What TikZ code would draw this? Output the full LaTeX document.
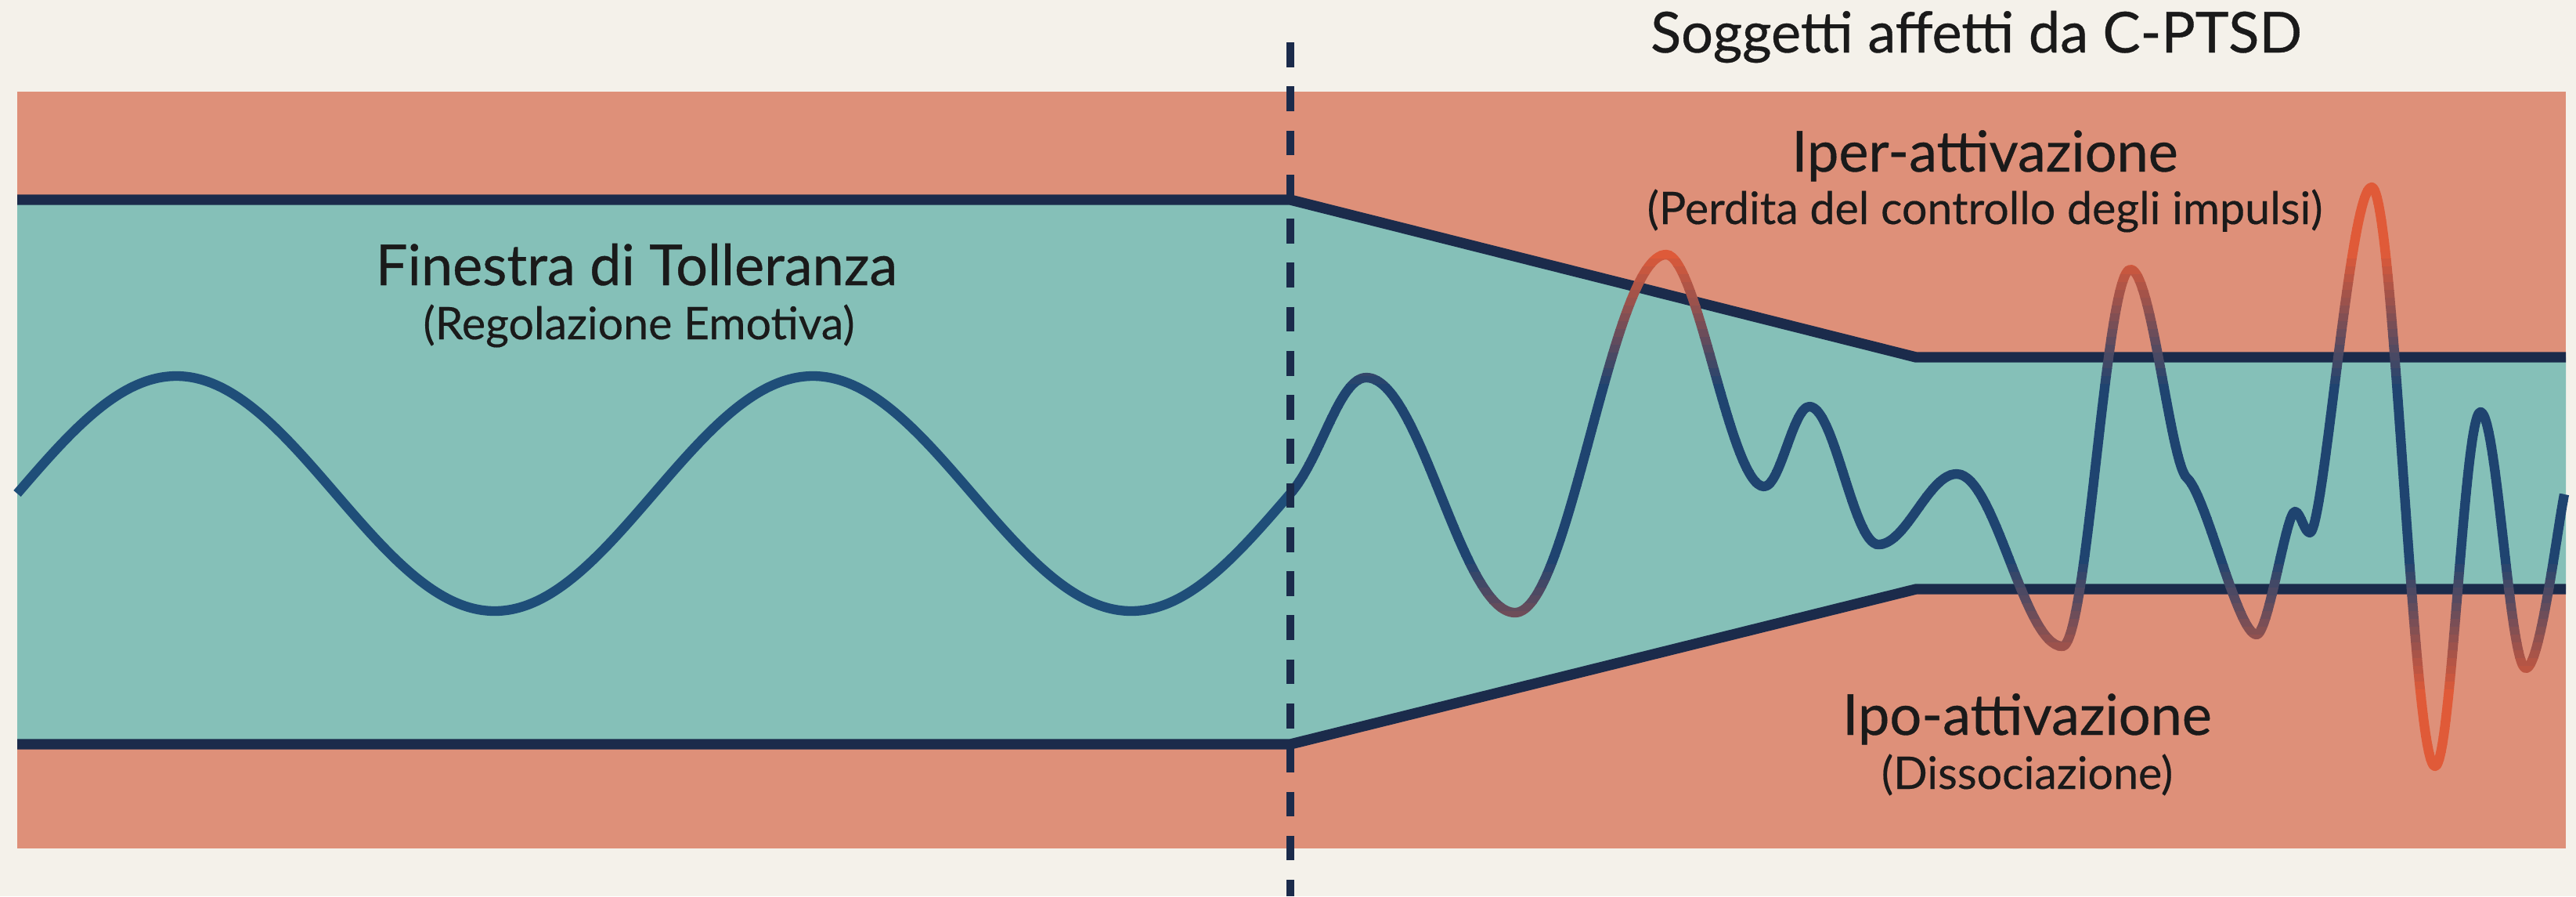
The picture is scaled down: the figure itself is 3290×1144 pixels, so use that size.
\documentclass[tikz,border=0pt]{standalone}
\usepackage{fontspec}
\setmainfont{Lato}
\newfontfamily\lblfont{Lato}[FakeBold=0.5]
\newfontfamily\subfont{Lato}[FakeBold=0.3]
\definecolor{bgc}{HTML}{F4F1EA}
\definecolor{salm}{HTML}{DE9079}
\definecolor{tealc}{HTML}{85C0B8}
\definecolor{navyl}{HTML}{1B2B4B}
\definecolor{wblue}{HTML}{1F4E79}
\definecolor{wnavy}{HTML}{1F4470}
\definecolor{wred}{HTML}{E05A38}
\definecolor{txt}{HTML}{1A1A1A}
\begin{document}
\begin{tikzpicture}[x=0.01cm,y=-0.01cm,
  bound/.style={draw=navyl,line width=3.8pt,line join=round},
  wavestyle/.style={line width=3.5pt,line join=round},
  lbl/.style={anchor=base,text=txt,inner sep=0pt,font=\lblfont\fontsize{20.5}{24}\selectfont},
  sublbl/.style={anchor=base,text=txt,inner sep=0pt,font=\subfont\fontsize{16.3}{20}\selectfont},
  divider/.style={draw=navyl,line width=2.8pt,dash pattern=on 9pt off 7pt}]
\useasboundingbox (0,0) rectangle (3290,1144);
\fill[bgc] (0,0) rectangle (3290,1144);
% zones
\fill[salm] (22,117) rectangle (3277,1083);
\fill[tealc] (22,255) -- (1648,255) -- (2447,456) -- (3277,456) -- (3277,752) -- (2447,752) -- (1648,950) -- (22,950) -- cycle;
\draw[bound] (22,255) -- (1648,255) -- (2447,456) -- (3277,456);
\draw[bound] (22,950) -- (1648,950) -- (2447,752) -- (3277,752);
% left regular wave
\draw[wavestyle,draw=wblue] (22,630) sin (225.25,480) cos (428.5,630) sin (631.75,780) cos (835,630)
  sin (1038.25,480) cos (1241.5,630) sin (1444.75,780) cos (1648,630);
% right irregular wave
\def\rightwave{(1648,630) .. controls (1688,584) and (1710,482) .. (1745,482)
  .. controls (1814,482) and (1866,782) .. (1935,782)
  .. controls (2005,782) and (2058,325) .. (2128,325)
  .. controls (2168,325) and (2210,621) .. (2253,621)
  .. controls (2274,621) and (2290,519) .. (2311,519)
  .. controls (2343,519) and (2367,695) .. (2399,695)
  .. controls (2435,695) and (2463,605) .. (2499,605)
  .. controls (2548,605) and (2585,825) .. (2634,825)
  .. controls (2666,825) and (2689,344) .. (2721,344)
  .. controls (2748,344) and (2772,592) .. (2793,610)
  .. controls (2818,632) and (2858,810) .. (2882,810)
  .. controls (2897,810) and (2920,653) .. (2931,653)
  .. controls (2938,653) and (2943,680) .. (2950,680)
  .. controls (2968,680) and (3001,239) .. (3029,239)
  .. controls (3058,239) and (3081,978) .. (3110,978)
  .. controls (3131,978) and (3147,526) .. (3168,526)
  .. controls (3189,526) and (3205,853) .. (3226,853)
  .. controls (3244,853) and (3266,676) .. (3275,631)}
\foreach \i in {0,...,89}{
  \pgfmathsetmacro{\ya}{150+10*\i}
  \pgfmathsetmacro{\dd}{abs(\ya+5-604)}
  \pgfmathtruncatemacro{\wt}{max(0,min(100,(\dd-110)/170*100))}
  \colorlet{wc}{wred!\wt!wnavy}
  \begin{scope}
    \clip (1600,\ya) rectangle (3290,\ya+10.4);
    \draw[wavestyle,draw=wc] \rightwave;
  \end{scope}
}
% divider
\draw[divider] (1648,54) -- (1648,1144);
% labels
\node[lbl] (title) at (2524,67) {Soggetti affetti da C-PTSD};
\node[lbl] (fin) at (813,364) {Finestra di Tolleranza};
\node[sublbl] (reg) at (816,433) {(Regolazione Emotiva)};
\node[lbl] (iper) at (2535,219) {Iper-attivazione};
\node[sublbl] (perd) at (2535,286) {(Perdita del controllo degli impulsi)};
\node[lbl] (ipo) at (2589,938) {Ipo-attivazione};
\node[sublbl] (diss) at (2589,1007) {(Dissociazione)};
\end{tikzpicture}
\end{document}
